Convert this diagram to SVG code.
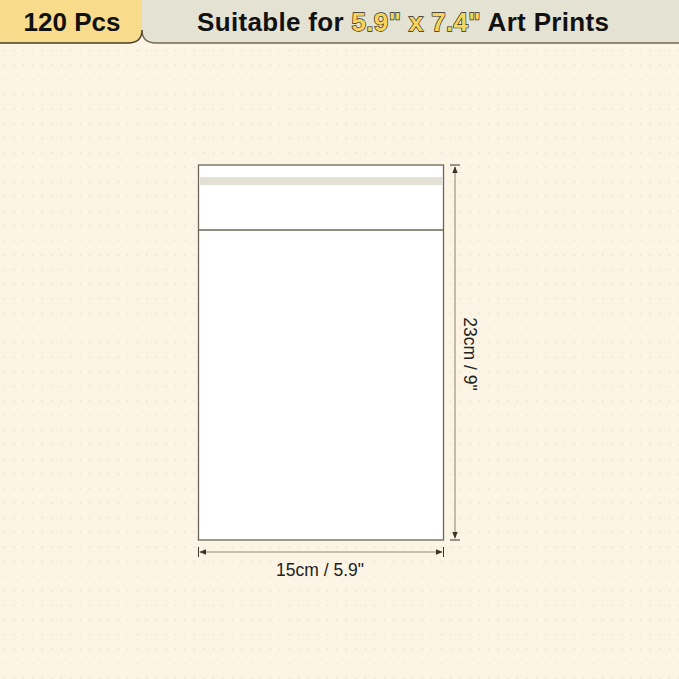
<svg xmlns="http://www.w3.org/2000/svg" width="679" height="679" viewBox="0 0 679 679">
  <defs>
    <pattern id="dots" x="0" y="0" width="9.5" height="14.6" patternUnits="userSpaceOnUse">
      <rect x="3.5" y="6" width="1.6" height="1.6" fill="#ebe3cf"/>
    </pattern>
    <marker id="arr" viewBox="0 0 10 10" refX="9" refY="5" markerWidth="7" markerHeight="7" orient="auto-start-reverse" markerUnits="userSpaceOnUse">
      <path d="M0,1 L10,5 L0,9 Z" fill="#3a3328"/>
    </marker>
    <style>
      .title{font-family:"Liberation Sans",Arial,sans-serif;font-weight:bold;font-size:26px;fill:#111}
      .hl{fill:#f5d55c;stroke:#2e2718;stroke-width:1.3;paint-order:stroke}
      .dim{stroke:#b4ad98;stroke-width:1.6;fill:none}
      .tick{stroke:#3a3328;stroke-width:1}
      .lbl{font-family:"Liberation Sans",Arial,sans-serif;font-size:17.5px;fill:#222}
    </style>
  </defs>
  <rect width="679" height="679" fill="#fcf5e5"/>
  <rect y="44" width="679" height="635" fill="url(#dots)"/>

  <g id="header">
    <path d="M679,0 H142 V30 Q142,43 156,43 H679 Z" fill="#e4e2d3"/>
    <path d="M142,30 Q142,43 156,43 H679" fill="none" stroke="#6f6a5a" stroke-width="1.4"/>
    <path d="M0,0 H142 V30 Q142,43 128,43 H0 Z" fill="#f8dc8c"/>
    <path d="M142,30 Q142,43 128,43 H0" fill="none" stroke="#4a3f2a" stroke-width="1.4"/>
    <text class="title" x="72" y="31" text-anchor="middle">120 Pcs</text>
    <text class="title" x="197" y="31" textLength="412" lengthAdjust="spacing">Suitable for <tspan class="hl">5.9" x 7.4"</tspan> Art Prints</text>
  </g>

  <g id="bag">
    <rect x="198.5" y="165" width="245" height="375" fill="#ffffff" stroke="#6b6658" stroke-width="1.3"/>
    <rect x="200" y="177" width="242" height="8" fill="#e3e1d3"/>
    <line x1="198.5" y1="230" x2="443.5" y2="230" stroke="#6b6658" stroke-width="1.3"/>
  </g>

  <g id="connectors">
    <line class="dim" x1="455" y1="167" x2="455" y2="538" marker-start="url(#arr)" marker-end="url(#arr)"/>
    <line class="tick" x1="450" y1="165" x2="460" y2="165"/>
    <line class="tick" x1="450" y1="540" x2="460" y2="540"/>
    <line class="dim" x1="200" y1="552" x2="442" y2="552" marker-start="url(#arr)" marker-end="url(#arr)"/>
    <line class="tick" x1="198.5" y1="547" x2="198.5" y2="557"/>
    <line class="tick" x1="443.5" y1="547" x2="443.5" y2="557"/>
  </g>

  <g id="labels">
    <text class="lbl" x="320" y="576" text-anchor="middle">15cm / 5.9"</text>
    <text class="lbl" transform="translate(464,354) rotate(90)" text-anchor="middle">23cm / 9"</text>
  </g>
</svg>
